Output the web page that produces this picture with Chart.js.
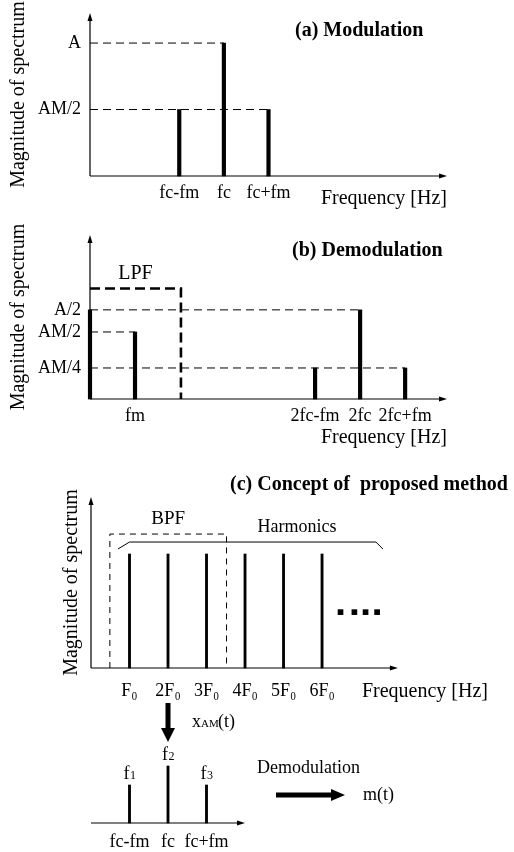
<!DOCTYPE html>
<html>
<head>
<meta charset="utf-8">
<script src="https://cdn.jsdelivr.net/npm/chart.js@4.4.1/dist/chart.umd.min.js"></script>
<style>
  body { margin: 0; background: #fff; }
  #wrap { position: relative; width: 514px; height: 852px; overflow: hidden; }
  canvas { position: absolute; left: 0; }
</style>
</head>
<body>
<div id="wrap">
  <canvas id="chart-a" width="514" height="215" style="top:0"></canvas>
  <canvas id="chart-b" width="514" height="235" style="top:215px"></canvas>
  <canvas id="chart-c" width="514" height="255" style="top:450px"></canvas>
  <canvas id="chart-d" width="514" height="152" style="top:700px"></canvas>
</div>
<script>
const SERIF = "'Liberation Serif', 'Times New Roman', serif";

// (a) modulation
const aFreq = [2, 3, 4];
const aMag = [0.5, 1, 0.5];
const aTickLabels = ['fc-fm', 'fc', 'fc+fm'];
const aLevels = [1, 0.5];
const aLevelLabels = ['A', 'AM/2'];
const aLevelEnds = [3, 4];

// (b) demodulation
const bFreq = [0, 1, 5, 6, 7];
const bMag = [0.5, 0.376, 0.174, 0.5, 0.174];
const bTicks = [1, 5, 6, 7];
const bTickLabels = ['fm', '2fc-fm', '2fc', '2fc+fm'];
const bLevels = [0.5, 0.376, 0.174];
const bLevelLabels = ['A/2', 'AM/2', 'AM/4'];
const bLevelEnds = [6, 1, 7];
const lpfCut = 2.02;
const lpfGain = 0.62;

// (c) concept of proposed method
const cFreq = [1, 2, 3, 4, 5, 6];
const cMag = [1, 1, 1, 1, 1, 1];
const cTickLabels = ['F₀', '2F₀', '3F₀', '4F₀', '5F₀', '6F₀'];
const bpfLow = 0.49, bpfHigh = 3.52, bpfGain = 1.175;
const bracketX = [0.7, 1, 7.4, 7.58];
const bracketY = [1.044, 1.105, 1.105, 1.044];
const dotsX = [6.48, 6.84, 7.13, 7.43];
const dotsLevel = 0.49;

// extracted AM signal
const dFreq = [1, 2, 3];
const dMag = [2, 3, 2];
const dTickLabels = ['fc-fm', 'fc', 'fc+fm'];
const dPeakLabels = ['1', '2', '3'];

Chart.defaults.font.family = SERIF;
Chart.defaults.color = '#000';

function barSet(xs, ys, w) {
  return { type: 'bar', data: xs.map((x, i) => ({ x: x, y: ys[i] })), backgroundColor: '#000',
    barThickness: w, grouped: false, clip: false };
}

function lineSet(pts, w, dash) {
  return { type: 'line', data: pts.map(p => ({ x: p[0], y: p[1] })), borderColor: '#000',
    borderWidth: w, borderDash: dash || [], pointRadius: 0, tension: 0, fill: false, clip: false };
}

function text(ctx, s, x, y, font, align) {
  ctx.font = font;
  ctx.textAlign = align || 'left';
  ctx.textBaseline = 'alphabetic';
  ctx.fillStyle = '#000';
  ctx.fillText(s, x, y);
}

// axes with arrow heads
function drawAxes(c, xEnd, withY) {
  const ctx = c.ctx, sx = c.scales.x, sy = c.scales.y;
  const x0 = sx.getPixelForValue(0), y0 = sy.getPixelForValue(0);
  const x1 = sx.getPixelForValue(xEnd), y1 = c.chartArea.top;
  ctx.save();
  ctx.strokeStyle = '#000';
  ctx.fillStyle = '#000';
  ctx.lineWidth = 1.2;
  ctx.beginPath();
  ctx.moveTo(x0, y0); ctx.lineTo(x1 - 4, y0);
  if (withY) { ctx.moveTo(x0, y0); ctx.lineTo(x0, y1 + 4); }
  ctx.stroke();
  ctx.beginPath();
  ctx.moveTo(x1, y0); ctx.lineTo(x1 - 8, y0 - 2.5); ctx.lineTo(x1 - 8, y0 + 2.5); ctx.closePath();
  if (withY) { ctx.moveTo(x0, y1); ctx.lineTo(x0 - 2.5, y1 + 8); ctx.lineTo(x0 + 2.5, y1 + 8); ctx.closePath(); }
  ctx.fill();
  ctx.restore();
}

function makeChart(id, p) {
  return new Chart(document.getElementById(id), {
    type: 'bar',
    data: { datasets: p.datasets },
    options: {
      responsive: false,
      animation: false,
      events: [],
      layout: { padding: p.pad },
      plugins: { legend: { display: false }, tooltip: { enabled: false } },
      scales: {
        x: {
          type: 'linear', min: 0, max: p.xMax, offset: false,
          grid: { display: false, drawTicks: false, offset: false },
          border: { display: false },
          afterBuildTicks: s => { s.ticks = p.xTicks.map(v => ({ value: v })); },
          ticks: { autoSkip: false, maxRotation: 0, padding: p.xTickPad, font: { size: 18 },
            callback: (v, i) => p.xLabels[i] },
          title: { display: !!p.xTitle, text: p.xTitle || '', align: 'end', font: { size: 20 },
            padding: { top: 0, bottom: p.xTitlePad || 0 } },
          afterFit: s => { s.height = p.xHeight; s.paddingLeft = 0; s.paddingRight = 0; }
        },
        y: {
          type: 'linear', min: 0, max: p.yMax, display: p.yShow,
          grid: { display: false, drawTicks: false },
          border: { display: false },
          afterBuildTicks: s => { s.ticks = p.yTicks.map(v => ({ value: v })); },
          ticks: { display: p.yTicks.length > 0, padding: 9, font: { size: 18 },
            callback: (v, i) => p.yLabels[i] },
          title: { display: p.yShow, text: 'Magnitude of spectrum', font: { size: 20 },
            padding: { top: p.yTitlePad || 0, bottom: 0 } },
          afterFit: s => { s.width = p.yWidth; s.paddingTop = 0; s.paddingBottom = 0; }
        }
      }
    },
    plugins: [{
      id: 'deco',
      beforeDatasetsDraw: c => drawAxes(c, p.xEnd, p.yShow),
      afterDraw: c => { if (p.draw) p.draw(c); }
    }]
  });
}

// (a)
makeChart('chart-a', {
  pad: { left: 0, top: 13, right: 67, bottom: 0 },
  xMax: 8, xEnd: 8, xTicks: aFreq, xLabels: aTickLabels, xTickPad: 6,
  xTitle: 'Frequency [Hz]', xTitlePad: 4, xHeight: 39,
  yMax: 1.226, yShow: true, yTicks: aLevels, yLabels: aLevelLabels, yWidth: 90, yTitlePad: 7,
  datasets: [
    barSet(aFreq, aMag, 3.5),
    ...aLevels.map((v, i) => lineSet([[0, v], [aLevelEnds[i], v]], 1, [8, 5]))
  ],
  draw: c => text(c.ctx, '(a) Modulation', 295, 36, 'bold 20px ' + SERIF)
});

// (b)
makeChart('chart-b', {
  pad: { left: 0, top: 20, right: 67, bottom: 0 },
  xMax: 7.93, xEnd: 7.93, xTicks: bTicks, xLabels: bTickLabels, xTickPad: 6,
  xTitle: 'Frequency [Hz]', xTitlePad: 0, xHeight: 51,
  yMax: 0.92, yShow: true, yTicks: bLevels, yLabels: bLevelLabels, yWidth: 90, yTitlePad: 7,
  datasets: [
    barSet(bFreq, bMag, 3.5),
    lineSet([[0, lpfGain], [lpfCut, lpfGain], [lpfCut, 0]], 2.6, [10, 5]),
    ...bLevels.map((v, i) => lineSet([[0, v], [bLevelEnds[i], v]], 1, [8, 5]))
  ],
  draw: c => {
    const sx = c.scales.x, sy = c.scales.y;
    text(c.ctx, '(b) Demodulation', 292, 41, 'bold 20px ' + SERIF);
    text(c.ctx, 'LPF', sx.getPixelForValue(lpfCut / 2), sy.getPixelForValue(lpfGain) - 9, '20px ' + SERIF, 'center');
  }
});

// (c)
makeChart('chart-c', {
  pad: { left: 0, top: 47, right: 26, bottom: 0 },
  xMax: 10.31, xEnd: 7.97, xTicks: cFreq, xLabels: cTickLabels, xTickPad: 12,
  xTitle: 'Frequency [Hz]', xTitlePad: 1, xHeight: 37,
  yMax: 1.5, yShow: true, yTicks: [], yLabels: [], yWidth: 91, yTitlePad: 60,
  datasets: [
    barSet(cFreq, cMag, 2.2),
    { type: 'line', data: dotsX.map(x => ({ x: x, y: dotsLevel })), showLine: false,
      pointStyle: 'rect', pointRadius: 4, backgroundColor: '#000', borderWidth: 0, clip: false },
    lineSet(bracketX.map((x, i) => [x, bracketY[i]]), 1),
    lineSet([[bpfLow, 0], [bpfLow, bpfGain], [bpfHigh, bpfGain], [bpfHigh, 0]], 1, [6, 5])
  ],
  draw: c => {
    const sx = c.scales.x, sy = c.scales.y;
    text(c.ctx, '(c) Concept of  proposed method', 230, 40, 'bold 20px ' + SERIF);
    text(c.ctx, 'BPF', sx.getPixelForValue((bpfLow + bpfHigh) / 2), sy.getPixelForValue(bpfGain) - 10, '19px ' + SERIF, 'center');
    text(c.ctx, 'Harmonics', 297, sy.getPixelForValue(bracketY[1]) - 10, '18px ' + SERIF, 'center');
  }
});

// extracted components and demodulation
makeChart('chart-d', {
  pad: { left: 91, top: 47, right: 269, bottom: 0 },
  xMax: 4, xEnd: 4, xTicks: dFreq, xLabels: dTickLabels, xTickPad: 8,
  xTitle: '', xHeight: 29,
  yMax: 4, yShow: false, yTicks: [], yLabels: [], yWidth: 0,
  datasets: [barSet(dFreq, dMag, 2.2)],
  draw: c => {
    const ctx = c.ctx, sx = c.scales.x, sy = c.scales.y;
    const ax = sx.getPixelForValue(2);
    // down arrow from 2F0
    ctx.fillStyle = '#000';
    ctx.fillRect(ax - 2.5, 3, 5, 26);
    ctx.beginPath();
    ctx.moveTo(ax - 7, 28); ctx.lineTo(ax + 7, 28); ctx.lineTo(ax, 42); ctx.closePath();
    ctx.fill();
    text(ctx, 'x', 192, 27, '18px ' + SERIF);
    text(ctx, 'AM', 201, 27, '11px ' + SERIF);
    text(ctx, '(t)', 218, 27, '18px ' + SERIF);
    // peak labels f1 f2 f3
    dFreq.forEach((f, i) => {
      const px = sx.getPixelForValue(f), py = sy.getPixelForValue(dMag[i]) - 6;
      text(ctx, 'f', px - 6, py, '18px ' + SERIF);
      text(ctx, dPeakLabels[i], px + 0.5, py, '12px ' + SERIF);
    });
    text(ctx, 'Demodulation', 257, 73, '18px ' + SERIF);
    // right arrow
    ctx.fillRect(276, 92.5, 56, 5);
    ctx.beginPath();
    ctx.moveTo(331, 89); ctx.lineTo(331, 101); ctx.lineTo(345, 95); ctx.closePath();
    ctx.fill();
    text(ctx, 'm(t)', 363, 100, '18px ' + SERIF);
  }
});
</script>
</body>
</html>
